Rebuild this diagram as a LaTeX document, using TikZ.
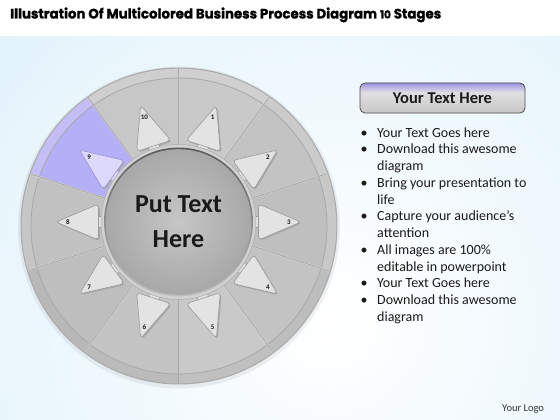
\documentclass[tikz,border=0pt]{standalone}
\usepackage{fontspec}
\setmainfont{Carlito}
\newfontfamily\titlefont{Poppins}[BoldFeatures={FakeBold=1.2}]
\usetikzlibrary{calc}
\definecolor{bgblue}{HTML}{D6EEFA}
\definecolor{rimline}{HTML}{A8A8A8}
\definecolor{diskedge}{HTML}{ABABAB}
\definecolor{arrowfill}{HTML}{E3E3E3}
\definecolor{arrowedge}{HTML}{9A9A9A}
\definecolor{arrowshadow}{HTML}{A9A9A9}
\definecolor{purplearrow}{HTML}{DDD9FB}
\definecolor{purpleedge}{HTML}{9A94D6}
\definecolor{btnpurple}{HTML}{9A93E3}
\definecolor{textdark}{HTML}{1A1A1A}
\definecolor{s1}{HTML}{C9C9C9}\definecolor{r1}{HTML}{D0D0D0}
\definecolor{s2}{HTML}{C3C3C3}\definecolor{r2}{HTML}{CBCBCB}
\definecolor{s3}{HTML}{BFBFBF}\definecolor{r3}{HTML}{C8C8C8}
\definecolor{s4}{HTML}{C3C3C3}\definecolor{r4}{HTML}{BDBDBD}
\definecolor{s5}{HTML}{C9C9C9}\definecolor{r5}{HTML}{C0C0C0}
\definecolor{s6}{HTML}{C4C4C4}\definecolor{r6}{HTML}{BBBBBB}
\definecolor{s7}{HTML}{BEBEBE}\definecolor{r7}{HTML}{B8B8B8}
\definecolor{s8}{HTML}{C1C1C1}\definecolor{r8}{HTML}{C6C6C6}
\definecolor{s9}{HTML}{B5AFF5}\definecolor{r9}{HTML}{C3BFF6}
\definecolor{s10}{HTML}{C7C7C7}\definecolor{r10}{HTML}{CFCFCF}
\definecolor{hubouter}{HTML}{D2D2D2}
\definecolor{hubring}{HTML}{A8A8A8}
\definecolor{hubin}{HTML}{C6C6C6}
\definecolor{hubout}{HTML}{A9A9A9}
\tikzset{
  arrowshape/.style={draw=#1, line width=0.6pt, rounded corners=3.5pt},
  numlabel/.style={font=\bfseries\fontsize{7}{8}\selectfont, text=textdark, inner sep=0},
  linetext/.style={anchor=base west, inner sep=0, font=\fontsize{14}{16}\selectfont, text=textdark},
  sepline/.style={draw=rimline, line width=0.9pt},
}
\begin{document}
\begin{tikzpicture}[x=1pt,y=-1pt]
\useasboundingbox (0,0) rectangle (560,420);
\fill[white] (0,0) rectangle (560,420);
\begin{scope}
  \clip (0,37) rectangle (560,420);
  \shade[inner color=white, outer color=bgblue] (330,320) circle (620);
\end{scope}
% title
\node[anchor=base west, inner sep=0, text=black] (title) at (10,18.5)
  {\resizebox{431pt}{11pt}{\titlefont\bfseries Illustration Of Multicolored Business Process Diagram {\fontsize{8}{9}\selectfont 10} Stages}};
% wheel
\begin{scope}[shift={(178.5,222)}, yscale=-1]
  \fill[black, opacity=0.06] (0.5,-5.5) circle (161);
  \fill[diskedge] (0.5,-4) circle (158.5);
  \begin{scope}
    \clip (0.5,-4) circle (157.3);
    \foreach \k in {1,...,10}{
      \pgfmathsetmacro\aa{90-36*\k}
      \fill[r\k] (0,0) -- (\aa:200) arc[start angle=\aa, end angle=\aa+36, radius=200] -- cycle;
    }
  \end{scope}
  \begin{scope}
    \clip (0.5,-4) circle (148);
    \foreach \k in {1,...,10}{
      \pgfmathsetmacro\aa{90-36*\k}
      \fill[s\k] (0,0) -- (\aa:200) arc[start angle=\aa, end angle=\aa+36, radius=200] -- cycle;
    }
  \end{scope}
  \draw[rimline, line width=0.8pt] (0.5,-4) circle (148);
  \begin{scope}
    \clip (0.5,-4) circle (157.3);
    \foreach \k in {0,...,9}{
      \draw[white!60!rimline, line width=1.6pt] (90-36*\k:76) -- (90-36*\k:170);
      \draw[sepline] (90-36*\k:76) -- (90-36*\k:170);
    }
  \end{scope}
  % arrows
  \foreach \k/\af/\ae in {1/arrowfill/arrowedge,2/arrowfill/arrowedge,3/arrowfill/arrowedge,4/arrowfill/arrowedge,5/arrowfill/arrowedge,6/arrowfill/arrowedge,7/arrowfill/arrowedge,8/arrowfill/arrowedge,9/purplearrow/purpleedge,10/arrowfill/arrowedge}{
    \pgfmathsetmacro\t{72-36*(\k-1)}
    \fill[arrowshadow, rounded corners=3.5pt] ($(\t:122.5)+(1.3,-1.3)$) -- ($(\t:80)+(\t+90:18)+(1.3,-1.3)$) -- ($(\t:80)+(\t-90:18)+(1.3,-1.3)$) -- cycle;
    \path[fill=\af, draw=\ae, line width=0.5pt] ($(\t:66)+(\t+90:5.5)$) -- ($(\t:84)+(\t+90:5.5)$) -- ($(\t:84)+(\t-90:5.5)$) -- ($(\t:66)+(\t-90:5.5)$) -- cycle;
    \path[fill=\af, arrowshape=\ae] (\t:122.5) -- ($(\t:80)+(\t+90:18)$) -- ($(\t:80)+(\t-90:18)$) -- cycle;
    \node[numlabel] (n\k) at (\t:110.5) {\k};
  }
  % hub
  \fill[hubouter] (0,0) circle (77.5);
  \draw[diskedge, line width=0.5pt] (0,0) circle (77.5);
  \shade[top color=black!65, bottom color=black!25] (0,0) circle (74.5);
  \fill[hubring] (0,0) circle (72.8);
  \shade[inner color=hubin, outer color=hubout] (0,0) circle (70);
  \node[align=center, text=textdark, font=\bfseries\fontsize{26}{35}\selectfont] (hub) at (0,0) {Put Text\\Here};
\end{scope}
% button
\begin{scope}
  \clip[rounded corners=5pt] (360,83) rectangle (525,113);
  \shade[top color=white!92!black, bottom color=black!22] (360,83) rectangle (525,113);
  \shade[top color=btnpurple, bottom color=white!90!black] (360,83) rectangle (525,93);
\end{scope}
\draw[black!70, line width=0.8pt, rounded corners=5pt] (360,83) rectangle (525,113);
\node[text=textdark, font=\bfseries\fontsize{16.5}{18}\selectfont] (btn) at (442.5,98.5) {Your Text Here};
% bullet lines
\foreach \i/\b/\txt in {1/1/Your Text Goes here, 2/1/Download this awesome, 3/0/diagram, 4/1/Bring your presentation to, 5/0/life, 6/1/Capture your audience’s, 7/0/attention, 8/1/All images are 100\%, 9/0/editable in powerpoint, 10/1/Your Text Goes here, 11/1/Download this awesome, 12/0/diagram}{
  \pgfmathsetmacro\yy{137+(\i-1)*16.75}
  \node[linetext] (l\i) at (377,\yy) {\txt};
  \ifnum\b=1 \node[linetext] (b\i) at (360.5,\yy) {•}; \fi
}
\node[anchor=base west, inner sep=0, text=black!80, font=\fontsize{10.5}{12}\selectfont] (logo) at (502,411) {Your Logo};
\end{tikzpicture}
\end{document}
